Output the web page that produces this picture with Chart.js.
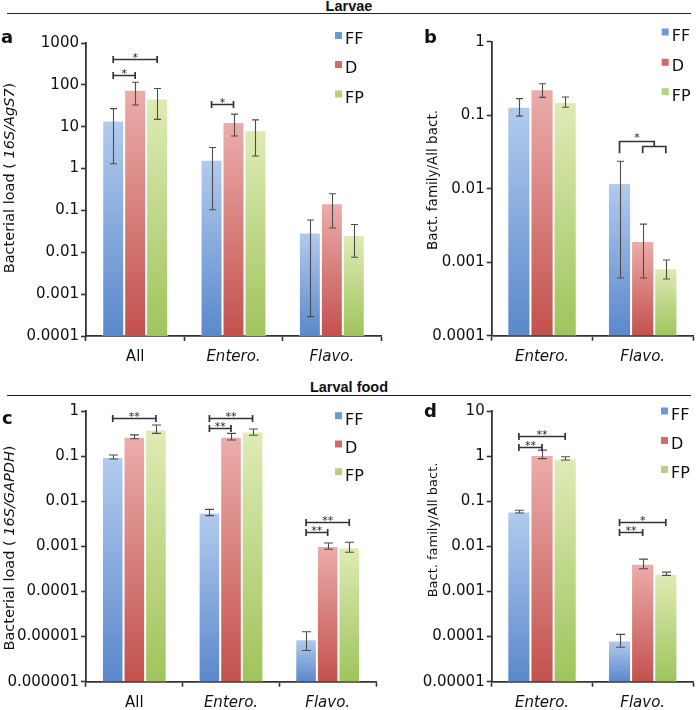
<!DOCTYPE html>
<html><head><meta charset="utf-8">
<script src="https://cdn.jsdelivr.net/npm/chart.js@4.4.1/dist/chart.umd.min.js"></script>
<style>
body{margin:0;background:#fff;width:697px;height:710px;position:relative;overflow:hidden;font-family:'DejaVu Sans',sans-serif;}
canvas{position:absolute;}
.hdr{position:absolute;left:7px;width:684px;border-bottom:1.6px solid #222;text-align:center;font-family:'Liberation Sans',Arial,sans-serif;font-weight:bold;font-size:14.5px;color:#111;}
</style></head><body>
<div class="hdr" style="top:0px;height:13px;line-height:13px">Larvae</div>
<div class="hdr" style="top:381px;height:13.5px;line-height:13px">Larval food</div>
<canvas id="ca" width="400" height="345" style="left:0;top:20px"></canvas>
<canvas id="cb" width="297" height="345" style="left:400px;top:20px"></canvas>
<canvas id="cc" width="400" height="312" style="left:0;top:398px"></canvas>
<canvas id="cd" width="297" height="312" style="left:400px;top:398px"></canvas>
<script>
// ---------- data ----------
const seriesNames = ['FF', 'D', 'FP'];

// Panel a: Larvae, bacterial load (16S/AgS7)
const catsA = ['All', 'Entero.', 'Flavo.'];
const aTicks = [0.0001, 0.001, 0.01, 0.1, 1, 10, 100, 1000];
const aFF = [14, 1.63, 0.0295];
const aFFlo = [1.3, 0.104, 0.00029];
const aFFhi = [27, 3.2, 0.059];
const aD = [76, 13, 0.148];
const aDlo = [33, 6, 0.038];
const aDhi = [115, 20, 0.25];
const aFP = [47, 8.3, 0.026];
const aFPlo = [15, 2, 0.0076];
const aFPhi = [82, 14.6, 0.046];
const aSig = [
  {cat: 0, from: 0, to: 1, y: 176, label: '*'},
  {cat: 0, from: 0, to: 2, y: 423, label: '*'},
  {cat: 1, from: 0, to: 1, y: 35, label: '*'}
];

// Panel b: Larvae, family / all bacteria
const catsB = ['Entero.', 'Flavo.'];
const bTicks = [0.0001, 0.001, 0.01, 0.1, 1];
const bFF = [0.13, 0.012];
const bFFlo = [0.097, 0.00061];
const bFFhi = [0.168, 0.0236];
const bD = [0.225, 0.00194];
const bDlo = [0.175, 0.00061];
const bDhi = [0.268, 0.0033];
const bFP = [0.151, 0.00083];
const bFPlo = [0.128, 0.00059];
const bFPhi = [0.177, 0.00107];
const bSig = [
  {nested: true, cat: 1, y: 0.0442, yInner: 0.0385, yLeg: 0.0303, label: '*'}
];

// Panel c: Larval food, bacterial load (16S/GAPDH)
const catsC = ['All', 'Entero.', 'Flavo.'];
const cTicks = [0.000001, 0.00001, 0.0001, 0.001, 0.01, 0.1, 1];
const cFF = [0.095, 0.0056, 0.0000087];
const cFFlo = [0.086, 0.0048, 0.0000049];
const cFFhi = [0.106, 0.0066, 0.0000128];
const cD = [0.27, 0.27, 0.00102];
const cDlo = [0.243, 0.228, 0.00086];
const cDhi = [0.295, 0.32, 0.00119];
const cFP = [0.39, 0.35, 0.00095];
const cFPlo = [0.32, 0.29, 0.00074];
const cFPhi = [0.49, 0.40, 0.00123];
const cSig = [
  {cat: 0, from: 0, to: 2, y: 0.69, label: '**'},
  {cat: 1, from: 0, to: 1, y: 0.41, label: '**'},
  {cat: 1, from: 0, to: 2, y: 0.69, label: '**'},
  {cat: 2, from: 0, to: 1, y: 0.0021, label: '**'},
  {cat: 2, from: 0, to: 2, y: 0.0035, label: '**'}
];

// Panel d: Larval food, family / all bacteria
const catsD = ['Entero.', 'Flavo.'];
const dTicks = [0.00001, 0.0001, 0.001, 0.01, 0.1, 1, 10];
const dFF = [0.059, 0.000082];
const dFFlo = [0.055, 0.000058];
const dFFhi = [0.063, 0.000112];
const dD = [1.06, 0.0041];
const dDlo = [0.88, 0.0032];
const dDhi = [1.36, 0.0052];
const dFP = [0.89, 0.00247];
const dFPlo = [0.82, 0.00227];
const dFPhi = [0.97, 0.00269];
const dSig = [
  {cat: 0, from: 0, to: 1, y: 1.62, label: '**'},
  {cat: 0, from: 0, to: 2, y: 2.79, label: '**'},
  {cat: 1, from: 0, to: 1, y: 0.0204, label: '**'},
  {cat: 1, from: 0, to: 2, y: 0.0345, label: '*'}
];

// ---------- styling ----------
const COLORS = [
  {light: '#b2cbee', dark: '#5a88cb', key: '#6e99d6'},
  {light: '#ebadab', dark: '#c3514d', key: '#d56b67'},
  {light: '#dfebb5', dark: '#9fc45c', key: '#b5d37e'}
];
const AX = '#333';
const FONT = 'DejaVu Sans';
Chart.defaults.font.family = FONT;
Chart.defaults.color = '#111';

function grad(light, dark) {
  return (c) => {
    const ch = c.chart, area = ch.chartArea;
    if (!area || c.raw == null || !ch.scales.y) return dark;
    const top = ch.scales.y.getPixelForValue(c.raw);
    const g = ch.ctx.createLinearGradient(0, top, 0, area.bottom);
    g.addColorStop(0, light);
    g.addColorStop(1, dark);
    return g;
  };
}

function fmtTick(v) {
  const e = Math.round(Math.log10(v));
  return e >= 0 ? String(Math.round(v)) : v.toFixed(-e);
}

function makeDecor(cfg) {
  return {
    id: 'decor',
    afterDatasetsDraw(chart) {
      const ctx = chart.ctx, ys = chart.scales.y;
      ctx.save();
      // error bars
      ctx.strokeStyle = '#4d4d4d';
      ctx.lineWidth = 1.1;
      chart.data.datasets.forEach((ds, i) => {
        chart.getDatasetMeta(i).data.forEach((bar, j) => {
          const x = Math.round(bar.x) + 0.5;
          const yh = ys.getPixelForValue(ds.errHi[j]);
          const yl = ys.getPixelForValue(ds.errLo[j]);
          ctx.beginPath();
          ctx.moveTo(x, yh); ctx.lineTo(x, yl);
          ctx.moveTo(x - cfg.cap, yh); ctx.lineTo(x + cfg.cap, yh);
          ctx.moveTo(x - cfg.cap, yl); ctx.lineTo(x + cfg.cap, yl);
          ctx.stroke();
        });
      });
      // significance brackets
      ctx.strokeStyle = '#333';
      ctx.lineWidth = 1.7;
      ctx.fillStyle = '#222';
      ctx.font = '11px ' + FONT;
      ctx.textAlign = 'center';
      ctx.textBaseline = 'alphabetic';
      cfg.sig.forEach(b => {
        if (b.nested) {
          const xF = chart.getDatasetMeta(0).data[b.cat].x;
          const xD = chart.getDatasetMeta(1).data[b.cat].x;
          const xP = chart.getDatasetMeta(2).data[b.cat].x;
          const xm = (xD + xP) / 2;
          const p1 = Math.round(ys.getPixelForValue(b.y)) + 0.5;
          const p2 = Math.round(ys.getPixelForValue(b.yInner)) + 0.5;
          const p3 = ys.getPixelForValue(b.yLeg);
          ctx.beginPath();
          ctx.moveTo(xF, p3); ctx.lineTo(xF, p1); ctx.lineTo(xm, p1); ctx.lineTo(xm, p2);
          ctx.moveTo(xD, p3); ctx.lineTo(xD, p2); ctx.lineTo(xP, p2); ctx.lineTo(xP, p3);
          ctx.stroke();
          ctx.fillText(b.label, (xF + xm) / 2, p1 - 0.5);
        } else {
          const xa = chart.getDatasetMeta(b.from).data[b.cat].x;
          const xb = chart.getDatasetMeta(b.to).data[b.cat].x;
          const py = Math.round(ys.getPixelForValue(b.y)) + 0.5;
          ctx.beginPath();
          ctx.moveTo(xa, py); ctx.lineTo(xb, py);
          ctx.moveTo(xa, py - 3.5); ctx.lineTo(xa, py + 3.5);
          ctx.moveTo(xb, py - 3.5); ctx.lineTo(xb, py + 3.5);
          ctx.stroke();
          ctx.fillText(b.label, (xa + xb) / 2, py + 1);
        }
      });
      ctx.restore();
    },
    afterDraw(chart) {
      const ctx = chart.ctx;
      ctx.save();
      // y-axis title with mixed italic
      ctx.translate(cfg.title.x, cfg.title.y);
      ctx.rotate(-Math.PI / 2);
      ctx.textBaseline = 'alphabetic';
      ctx.textAlign = 'left';
      ctx.fillStyle = '#111';
      let total = 0;
      const parts = cfg.title.parts.map(p => {
        ctx.font = (p.it ? 'italic ' : '') + cfg.title.size + 'px ' + FONT;
        const w = ctx.measureText(p.t).width;
        total += w;
        return {t: p.t, it: p.it, w};
      });
      let x = -total / 2;
      parts.forEach(p => {
        ctx.font = (p.it ? 'italic ' : '') + cfg.title.size + 'px ' + FONT;
        ctx.fillText(p.t, x, 0);
        x += p.w;
      });
      ctx.restore();
      // legend
      ctx.save();
      ctx.font = '16px ' + FONT;
      ctx.textBaseline = 'alphabetic';
      ctx.textAlign = 'left';
      chart.data.datasets.forEach((ds, i) => {
        const yc = cfg.legend.y[i];
        ctx.fillStyle = COLORS[i].key;
        ctx.fillRect(cfg.legend.x, yc - 6.5, 7, 7);
        ctx.fillStyle = '#111';
        ctx.fillText(ds.label, cfg.legend.x + 10, yc + 5.8);
      });
      // panel letter
      ctx.font = 'bold 18px ' + FONT;
      ctx.fillText(cfg.letter.t, cfg.letter.x, cfg.letter.y);
      ctx.restore();
    }
  };
}

function makePanel(id, p) {
  const series = [p.ff, p.d, p.fp];
  const lo = [p.ffLo, p.dLo, p.fpLo];
  const hi = [p.ffHi, p.dHi, p.fpHi];
  const canvas = document.getElementById(id);
  new Chart(canvas, {
    type: 'bar',
    data: {
      labels: p.cats,
      datasets: series.map((vals, i) => ({
        label: seriesNames[i],
        data: vals,
        errLo: lo[i],
        errHi: hi[i],
        backgroundColor: grad(COLORS[i].light, COLORS[i].dark),
        borderColor: 'rgba(255,255,255,0.55)',
        borderWidth: {left: 1, right: 1, top: 1, bottom: 0},
        borderSkipped: 'start',
        categoryPercentage: p.catPct,
        barPercentage: 1
      }))
    },
    options: {
      responsive: false,
      animation: false,
      events: [],
      layout: {padding: {left: 0, top: p.padTop, right: p.padRight, bottom: 0}},
      plugins: {legend: {display: false}, tooltip: {enabled: false}},
      scales: {
        x: {
          type: 'category',
          afterFit: s => { s.height = p.xH; },
          grid: {offset: true, drawOnChartArea: false, drawTicks: true, tickLength: 5, tickColor: AX, tickWidth: 1.6},
          border: {color: AX, width: 1.8},
          ticks: {
            padding: 7,
            maxRotation: 0,
            autoSkip: false,
            color: '#111',
            font: c => ({family: FONT, size: 15, style: p.cats[c.index] === 'All' ? 'normal' : 'italic'})
          }
        },
        y: {
          type: 'logarithmic',
          min: p.ticks[0],
          max: p.ticks[p.ticks.length - 1],
          afterBuildTicks: s => { s.ticks = p.ticks.map(v => ({value: v})); },
          afterFit: s => { s.width = p.yW; },
          grid: {drawOnChartArea: false, drawTicks: true, tickLength: 5, tickColor: AX, tickWidth: 1.6},
          border: {color: AX, width: 1.8},
          ticks: {padding: 2, color: '#111', autoSkip: false, font: {family: FONT, size: 15}, callback: v => fmtTick(v)}
        }
      }
    },
    plugins: [makeDecor(p.decor)]
  });
}

makePanel('ca', {
  cats: catsA, ticks: aTicks, ff: aFF, ffLo: aFFlo, ffHi: aFFhi, d: aD, dLo: aDlo, dHi: aDhi,
  fp: aFP, fpLo: aFPlo, fpHi: aFPhi, catPct: 0.67,
  padTop: 23, padRight: 19, xH: 29, yW: 86,
  decor: {
    cap: 3.5, sig: aSig,
    title: {x: 14, y: 158, size: 14.5, parts: [{t: 'Bacterial load ( '}, {t: '16S/AgS7', it: true}, {t: ')'}]},
    legend: {x: 335, y: [18.5, 47.5, 77]},
    letter: {t: 'a', x: 1, y: 23}
  }
});

makePanel('cb', {
  cats: catsB, ticks: bTicks, ff: bFF, ffLo: bFFlo, ffHi: bFFhi, d: bD, dLo: bDlo, dHi: bDhi,
  fp: bFP, fpLo: bFPlo, fpHi: bFPhi, catPct: 0.69,
  padTop: 21.7, padRight: 4, xH: 29.3, yW: 91.7,
  decor: {
    cap: 3.5, sig: bSig,
    title: {x: 37.3, y: 160, size: 13.5, parts: [{t: 'Bact. family/All bact.'}]},
    legend: {x: 261.7, y: [15, 45.3, 74.7]},
    letter: {t: 'b', x: 24, y: 23}
  }
});

makePanel('cc', {
  cats: catsC, ticks: cTicks, ff: cFF, ffLo: cFFlo, ffHi: cFFhi, d: cD, dLo: cDlo, dHi: cDhi,
  fp: cFP, fpLo: cFPlo, fpHi: cFPhi, catPct: 0.67,
  padTop: 13, padRight: 24, xH: 28.3, yW: 86,
  decor: {
    cap: 4.5, sig: cSig,
    title: {x: 14, y: 150, size: 14.5, parts: [{t: 'Bacterial load ( '}, {t: '16S/GAPDH', it: true}, {t: ')'}]},
    legend: {x: 335, y: [20.7, 49, 76.7]},
    letter: {t: 'c', x: 2, y: 26}
  }
});

makePanel('cd', {
  cats: catsD, ticks: dTicks, ff: dFF, ffLo: dFFlo, ffHi: dFFhi, d: dD, dLo: dDlo, dHi: dDhi,
  fp: dFP, fpLo: dFPlo, fpHi: dFPhi, catPct: 0.69,
  padTop: 13, padRight: 4, xH: 28.3, yW: 91.7,
  decor: {
    cap: 4.5, sig: dSig,
    title: {x: 37.3, y: 132, size: 13, parts: [{t: 'Bact. family/All bact.'}]},
    legend: {x: 261, y: [16, 45.5, 74.5]},
    letter: {t: 'd', x: 24, y: 19}
  }
});
</script>
</body></html>
